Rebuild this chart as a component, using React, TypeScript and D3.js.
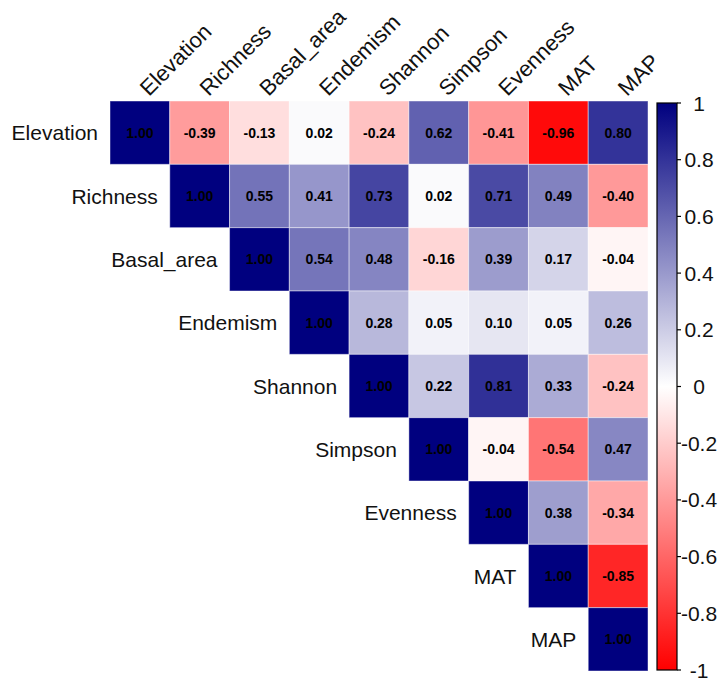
import React, { useRef, useEffect } from 'react';
import * as d3 from 'd3';

const variables = ['Elevation', 'Richness', 'Basal_area', 'Endemism', 'Shannon', 'Simpson', 'Evenness', 'MAT', 'MAP'];

// upper triangle, each row starts at the diagonal
const elevationRow = [1.0, -0.39, -0.13, 0.02, -0.24, 0.62, -0.41, -0.96, 0.8];
const richnessRow = [1.0, 0.55, 0.41, 0.73, 0.02, 0.71, 0.49, -0.4];
const basalAreaRow = [1.0, 0.54, 0.48, -0.16, 0.39, 0.17, -0.04];
const endemismRow = [1.0, 0.28, 0.05, 0.1, 0.05, 0.26];
const shannonRow = [1.0, 0.22, 0.81, 0.33, -0.24];
const simpsonRow = [1.0, -0.04, -0.54, 0.47];
const evennessRow = [1.0, 0.38, -0.34];
const matRow = [1.0, -0.85];
const mapRow = [1.0];

const rows = [elevationRow, richnessRow, basalAreaRow, endemismRow, shannonRow, simpsonRow, evennessRow, matRow, mapRow];

const legendTicks = [1, 0.8, 0.6, 0.4, 0.2, 0, -0.2, -0.4, -0.6, -0.8, -1];

function CorrPlot() {
  const ref = useRef<SVGSVGElement>(null);
  const width = 720;
  const height = 682;
  const grid = { left: 110, top: 101, right: 648, bottom: 671 };
  const font = 'Arial, "Liberation Sans", sans-serif';

  useEffect(() => {
    const svg = d3.select(ref.current);
    svg.selectAll('*').remove();

    const x = d3.scaleBand<string>().domain(variables).range([grid.left, grid.right]);
    const y = d3.scaleBand<string>().domain(variables).range([grid.top, grid.bottom]);
    const color = d3.scaleLinear<string>().domain([-1, 0, 1]).range(['#FF0000', '#FFFFFF', '#00007F']);

    const cells = rows.flatMap((vals, i) =>
      vals.map((v, k) => ({ row: variables[i], col: variables[i + k], value: v }))
    );

    const g = svg.append('g');

    g.selectAll('rect.cell')
      .data(cells)
      .join('rect')
      .attr('class', 'cell')
      .attr('x', (d) => x(d.col)!)
      .attr('y', (d) => y(d.row)!)
      .attr('width', x.bandwidth())
      .attr('height', y.bandwidth())
      .attr('fill', (d) => color(d.value))
      .attr('stroke', 'rgba(255,255,255,0.45)')
      .attr('stroke-width', 1);

    g.selectAll('text.val')
      .data(cells)
      .join('text')
      .attr('class', 'val')
      .attr('x', (d) => x(d.col)! + x.bandwidth() / 2)
      .attr('y', (d) => y(d.row)! + y.bandwidth() / 2)
      .attr('dy', '0.36em')
      .attr('text-anchor', 'middle')
      .attr('font-family', font)
      .attr('font-weight', 'bold')
      .attr('font-size', 14)
      .attr('fill', '#000')
      .text((d) => d.value.toFixed(2));

    // row labels, left of the diagonal cell
    g.selectAll('text.rowlab')
      .data(variables)
      .join('text')
      .attr('class', 'rowlab')
      .attr('x', (d) => x(d)! - 12)
      .attr('y', (d) => y(d)! + y.bandwidth() / 2)
      .attr('dy', '0.36em')
      .attr('text-anchor', 'end')
      .attr('font-family', font)
      .attr('font-size', 21)
      .attr('fill', '#111')
      .text((d) => d);

    // column labels, rotated
    g.selectAll('text.collab')
      .data(variables)
      .join('text')
      .attr('class', 'collab')
      .attr('transform', (d) => `translate(${x(d)! + x.bandwidth() / 2 + 9}, ${grid.top - 4}) rotate(-45)`)
      .attr('text-anchor', 'start')
      .attr('font-family', font)
      .attr('font-size', 22)
      .attr('fill', '#111')
      .text((d) => d);

    // color legend
    const lg = { x: 657, w: 20, top: 103, bottom: 670 };
    const ly = d3.scaleLinear().domain([-1, 1]).range([lg.bottom, lg.top]);
    const defs = svg.append('defs');
    const grad = defs
      .append('linearGradient')
      .attr('id', 'cbar')
      .attr('x1', 0)
      .attr('y1', 1)
      .attr('x2', 0)
      .attr('y2', 0);
    d3.range(0, 1.0001, 0.05).forEach((t) => {
      grad.append('stop').attr('offset', t).attr('stop-color', color(-1 + 2 * t));
    });

    const leg = svg.append('g');
    leg
      .append('rect')
      .attr('x', lg.x)
      .attr('y', lg.top)
      .attr('width', lg.w)
      .attr('height', lg.bottom - lg.top)
      .attr('fill', 'url(#cbar)')
      .attr('stroke', '#000')
      .attr('stroke-width', 1.2);

    leg
      .selectAll('line.tick')
      .data(legendTicks)
      .join('line')
      .attr('class', 'tick')
      .attr('x1', lg.x + lg.w)
      .attr('x2', lg.x + lg.w + 4)
      .attr('y1', (d) => ly(d))
      .attr('y2', (d) => ly(d))
      .attr('stroke', '#000')
      .attr('stroke-width', 1.2);

    leg
      .selectAll('text.ticklab')
      .data(legendTicks)
      .join('text')
      .attr('class', 'ticklab')
      .attr('x', 699)
      .attr('y', (d) => ly(d))
      .attr('dy', '0.36em')
      .attr('text-anchor', 'middle')
      .attr('font-family', font)
      .attr('font-size', 21)
      .attr('fill', '#111')
      .text((d) => String(d));
  }, []);

  return <svg ref={ref} width={width} height={height} style={{ position: 'absolute', left: 0, top: 0, background: '#fff' }}></svg>;
}

export default function App() {
  return <CorrPlot />;
}
